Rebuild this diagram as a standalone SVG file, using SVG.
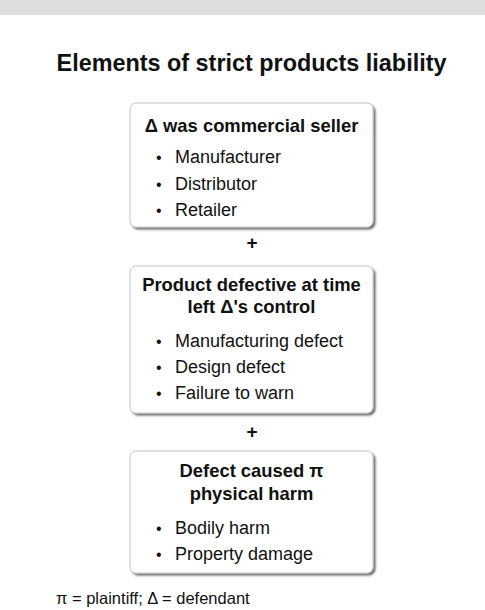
<svg xmlns="http://www.w3.org/2000/svg" width="485" height="610" viewBox="0 0 485 610">
<defs>
<filter id="sh" x="-10%" y="-10%" width="120%" height="120%">
<feGaussianBlur in="SourceAlpha" stdDeviation="1.2"/>
<feOffset dx="1.5" dy="2" result="b"/>
<feComponentTransfer><feFuncA type="linear" slope="0.6"/></feComponentTransfer>
<feMerge><feMergeNode/><feMergeNode in="SourceGraphic"/></feMerge>
</filter>
</defs>
<style>
text{font-family:"Liberation Sans",Arial,sans-serif;fill:#111}
.t{font-size:23.4px;font-weight:bold;text-anchor:middle}
.h{font-size:18.4px;font-weight:bold;text-anchor:middle}
.b{font-size:18px}
.d{font-size:16px}
.box{fill:#fff;stroke:#c4c4c4;stroke-width:1;filter:url(#sh)}
.p{font-size:19px;font-weight:bold;text-anchor:middle}
.f{font-size:16.5px}
</style>
<rect x="0" y="0" width="485" height="15" fill="#dedede"/>
<text class="t" x="251.5" y="71">Elements of strict products liability</text>
<g id="n1">
<rect class="box" x="130" y="103" width="243" height="124" rx="6"/>
<text class="h" x="251.5" y="132">Δ was commercial seller</text>
<text class="d" x="156" y="163">•</text><text class="b" x="175" y="163">Manufacturer</text>
<text class="d" x="156" y="189.5">•</text><text class="b" x="175" y="189.5">Distributor</text>
<text class="d" x="156" y="216">•</text><text class="b" x="175" y="216">Retailer</text>
</g>
<g id="connectors">
<text class="p" x="252" y="249">+</text>
<text class="p" x="252" y="438">+</text>
</g>
<g id="n2">
<rect class="box" x="130" y="266" width="243" height="147" rx="6"/>
<text class="h" x="251.5" y="291">Product defective at time</text>
<text class="h" x="251.5" y="313">left Δ's control</text>
<text class="d" x="156" y="347">•</text><text class="b" x="175" y="347">Manufacturing defect</text>
<text class="d" x="156" y="373">•</text><text class="b" x="175" y="373">Design defect</text>
<text class="d" x="156" y="399">•</text><text class="b" x="175" y="399">Failure to warn</text>
</g>
<g id="n3">
<rect class="box" x="130" y="451" width="243" height="122" rx="6"/>
<text class="h" x="251.5" y="477">Defect caused π</text>
<text class="h" x="251.5" y="500">physical harm</text>
<text class="d" x="156" y="534">•</text><text class="b" x="175" y="534">Bodily harm</text>
<text class="d" x="156" y="560">•</text><text class="b" x="175" y="560">Property damage</text>
</g>
<text class="f" x="56" y="604">π = plaintiff;  Δ = defendant</text>
</svg>
